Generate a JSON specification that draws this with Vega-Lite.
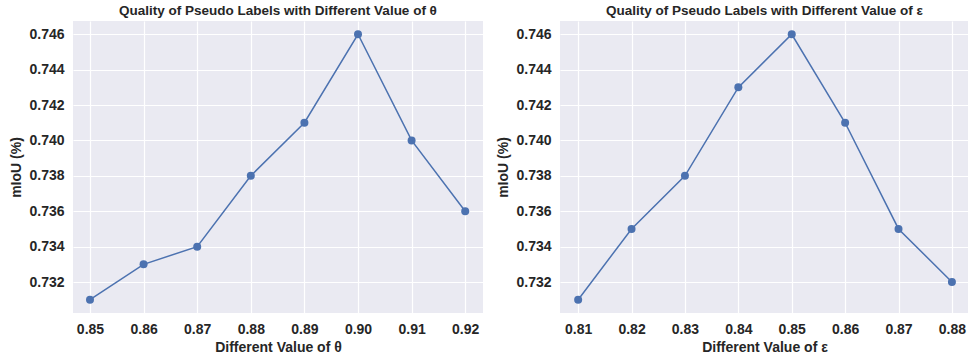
{
  "$schema": "https://vega.github.io/schema/vega-lite/v6.json",
  "padding": {"left": 9, "top": 3, "right": 0, "bottom": 0},
  "background": "white",
  "spacing": 77,
  "bounds": "flush",
  "config": {
    "view": {"fill": "#EAEAF2", "stroke": null},
    "font": "Liberation Sans",
    "axis": {
      "domain": false,
      "ticks": false,
      "gridColor": "white",
      "gridWidth": 1.2,
      "labelFont": "Liberation Sans",
      "labelFontSize": 14,
      "labelFontWeight": "bold",
      "labelColor": "#262626",
      "titleFont": "Liberation Sans",
      "titleFontSize": 14,
      "titleFontWeight": "bold",
      "titleColor": "#262626"
    },
    "title": {"font": "Liberation Sans", "fontSize": 13.5, "fontWeight": "bold", "color": "#262626", "offset": 4}
  },
  "datasets": {
    "theta": [
      {"v": 0.85, "miou": 0.731},
      {"v": 0.86, "miou": 0.733},
      {"v": 0.87, "miou": 0.734},
      {"v": 0.88, "miou": 0.738},
      {"v": 0.89, "miou": 0.741},
      {"v": 0.90, "miou": 0.746},
      {"v": 0.91, "miou": 0.740},
      {"v": 0.92, "miou": 0.736}
    ],
    "eps": [
      {"v": 0.81, "miou": 0.731},
      {"v": 0.82, "miou": 0.735},
      {"v": 0.83, "miou": 0.738},
      {"v": 0.84, "miou": 0.743},
      {"v": 0.85, "miou": 0.746},
      {"v": 0.86, "miou": 0.741},
      {"v": 0.87, "miou": 0.735},
      {"v": 0.88, "miou": 0.732}
    ]
  },
  "hconcat": [
    {
      "width": 410,
      "height": 292,
      "title": "Quality of Pseudo Labels with Different Value of θ",
      "data": {"name": "theta"},
      "mark": {"type": "line", "color": "#4C72B0", "strokeWidth": 1.5, "clip": true, "point": {"filled": true, "size": 64, "color": "#4C72B0", "opacity": 1}},
      "encoding": {
        "x": {"field": "v", "type": "quantitative", "title": "Different Value of θ",
              "scale": {"domain": [0.84683, 0.92332], "nice": false, "zero": false},
              "axis": {"values": [0.85, 0.86, 0.87, 0.88, 0.89, 0.90, 0.91, 0.92], "format": ".2f", "labelPadding": 9, "titlePadding": 4}},
        "y": {"field": "miou", "type": "quantitative", "title": "mIoU (%)",
              "scale": {"domain": [0.73025, 0.74675], "nice": false, "zero": false},
              "axis": {"values": [0.732, 0.734, 0.736, 0.738, 0.740, 0.742, 0.744, 0.746], "format": ".3f", "labelPadding": 9, "titlePadding": 5}}
      }
    },
    {
      "width": 409,
      "height": 292,
      "title": "Quality of Pseudo Labels with Different Value of ε",
      "data": {"name": "eps"},
      "mark": {"type": "line", "color": "#4C72B0", "strokeWidth": 1.5, "clip": true, "point": {"filled": true, "size": 64, "color": "#4C72B0", "opacity": 1}},
      "encoding": {
        "x": {"field": "v", "type": "quantitative", "title": "Different Value of ε",
              "scale": {"domain": [0.8066, 0.8832], "nice": false, "zero": false},
              "axis": {"values": [0.81, 0.82, 0.83, 0.84, 0.85, 0.86, 0.87, 0.88], "format": ".2f", "labelPadding": 9, "titlePadding": 4}},
        "y": {"field": "miou", "type": "quantitative", "title": "mIoU (%)",
              "scale": {"domain": [0.73025, 0.74675], "nice": false, "zero": false},
              "axis": {"values": [0.732, 0.734, 0.736, 0.738, 0.740, 0.742, 0.744, 0.746], "format": ".3f", "labelPadding": 9, "titlePadding": 5}}
      }
    }
  ]
}
